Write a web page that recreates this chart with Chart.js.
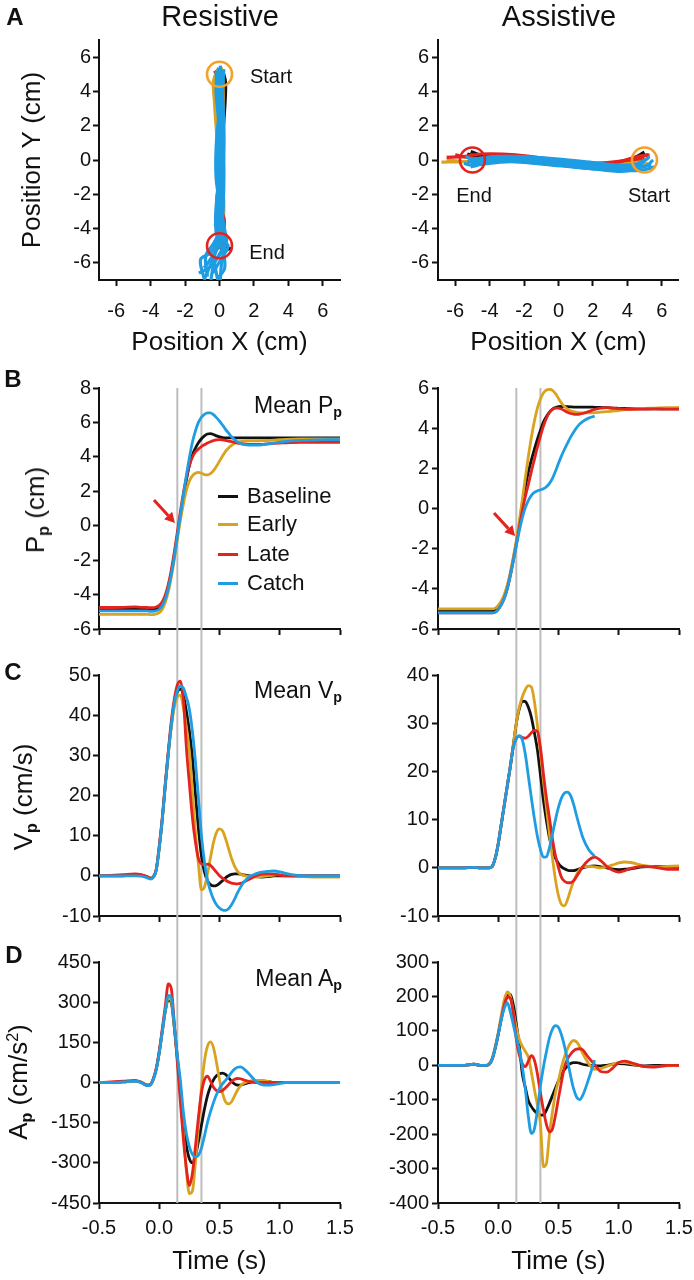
<!DOCTYPE html>
<html><head><meta charset="utf-8">
<script src="https://cdn.jsdelivr.net/npm/chart.js@4.4.1/dist/chart.umd.min.js"></script>
<style>
html,body{margin:0;padding:0;background:#fff;}
#fig{position:relative;width:694px;height:1280px;overflow:hidden;font-family:"Liberation Sans",Arial,Helvetica,sans-serif;color:#111;background:#fff;}
canvas{position:absolute;left:0;}
.t{position:absolute;white-space:nowrap;line-height:1;}
.c{transform:translate(-50%,-50%);}
.r{transform:translate(-100%,-50%);}
.l{transform:translate(0,-50%);}
.v{transform:translate(-50%,-50%) rotate(-90deg);}
.b{font-weight:bold;}
sub{font-size:0.62em;font-weight:bold;vertical-align:-0.3em;line-height:0;}
sup{font-size:0.62em;vertical-align:0.55em;line-height:0;}
.lg{position:absolute;left:218px;width:20px;height:3px;}
</style></head>
<body><div id="fig">
<canvas id="cAL" width="694" height="340" style="top:20px"></canvas>
<canvas id="cAR" width="694" height="340" style="top:20px"></canvas>
<canvas id="cBL" width="694" height="280" style="top:360px"></canvas>
<canvas id="cBR" width="694" height="280" style="top:360px"></canvas>
<canvas id="cCL" width="694" height="285" style="top:640px"></canvas>
<canvas id="cCR" width="694" height="285" style="top:640px"></canvas>
<canvas id="cDL" width="694" height="355" style="top:925px"></canvas>
<canvas id="cDR" width="694" height="355" style="top:925px"></canvas>

<div class="t c b" style="left:15px;top:17px;font-size:24px">A</div>
<div class="t c" style="left:220px;top:16px;font-size:29px">Resistive</div>
<div class="t c" style="left:559px;top:16px;font-size:29px">Assistive</div>
<div class="t c" style="left:271px;top:76px;font-size:20px">Start</div>
<div class="t c" style="left:267px;top:252px;font-size:20px">End</div>
<div class="t c" style="left:474px;top:195px;font-size:20px">End</div>
<div class="t c" style="left:649px;top:195px;font-size:20px">Start</div>

<div class="t c b" style="left:13px;top:379px;font-size:24px">B</div>
<div class="t c b" style="left:13px;top:672px;font-size:24px">C</div>
<div class="t c b" style="left:14px;top:955px;font-size:24px">D</div>

<div class="t r" style="left:342px;top:405px;font-size:23px">Mean P<sub>p</sub></div>
<div class="t r" style="left:342px;top:690px;font-size:23px">Mean V<sub>p</sub></div>
<div class="t r" style="left:342px;top:978px;font-size:23px">Mean A<sub>p</sub></div>

<div class="lg" style="top:495px;background:#111"></div>
<div class="lg" style="top:523px;background:#D9A31F"></div>
<div class="lg" style="top:553px;background:#E3231E"></div>
<div class="lg" style="top:582px;background:#1E9DE3"></div>
<div class="t l" style="left:247px;top:496px;font-size:22px">Baseline</div>
<div class="t l" style="left:247px;top:524px;font-size:22px">Early</div>
<div class="t l" style="left:247px;top:554px;font-size:22px">Late</div>
<div class="t l" style="left:247px;top:583px;font-size:22px">Catch</div>

<div class="t v" style="left:35px;top:510px;font-size:26px">P<sub>p</sub> (cm)</div>
<div class="t v" style="left:23px;top:797px;font-size:26px">V<sub>p</sub> (cm/s)</div>
<div class="t v" style="left:18px;top:1082px;font-size:26px">A<sub>p</sub> (cm/s<sup>2</sup>)</div>
</div>
<script>
const FONT = '"Liberation Sans", Arial, Helvetica, sans-serif';
const INK = '#111111';
const COL_BASE = '#111111', COL_EARLY = '#D9A31F', COL_LATE = '#E3231E', COL_CATCH = '#1E9DE3';
const COL_START = '#F3A12B', COL_END = '#E3231E', COL_MARK = '#BDBDBD';

// ---------- time base (s) ----------
const T = [-0.5,-0.4,-0.3,-0.2,-0.15,-0.1,-0.075,-0.05,-0.025,0,
 0.025,0.05,0.075,0.1,0.125,0.15,0.175,0.2,0.225,0.25,
 0.275,0.3,0.325,0.35,0.375,0.4,0.425,0.45,0.475,0.5,
 0.525,0.55,0.575,0.6,0.625,0.65,0.675,0.7,0.75,0.8,
 0.85,0.9,0.95,1.0,1.05,1.1,1.2,1.3,1.4,1.5];

// ---------- Resistive: position (cm) ----------
const resPosBaseline = [-4.85,-4.85,-4.85,-4.85,-4.85,-4.85,-4.86,-4.86,-4.83,-4.75,
 -4.55,-4.15,-3.55,-2.75,-1.75,-0.6,0.55,1.65,2.65,3.5,
 4.1,4.5,4.82,5.05,5.22,5.33,5.35,5.3,5.22,5.16,
 5.12,5.1,5.1,5.1,5.1,5.1,5.1,5.1,5.1,5.1,
 5.1,5.1,5.1,5.1,5.1,5.1,5.1,5.1,5.1,5.1];
const resPosEarly = [-5.15,-5.15,-5.15,-5.15,-5.15,-5.15,-5.16,-5.16,-5.13,-5.05,
 -4.85,-4.45,-3.85,-3.0,-1.95,-0.8,0.3,1.25,2.05,2.6,
 2.9,3.05,3.1,3.05,2.97,2.95,3.02,3.2,3.45,3.75,
 4.05,4.32,4.52,4.67,4.78,4.85,4.89,4.92,4.93,4.93,
 4.94,4.95,4.97,5.0,5.02,5.03,5.04,5.05,5.05,5.05];
const resPosLate = [-4.75,-4.75,-4.74,-4.72,-4.74,-4.75,-4.76,-4.76,-4.72,-4.63,
 -4.42,-4.02,-3.42,-2.58,-1.52,-0.38,0.8,1.88,2.8,3.5,
 3.98,4.28,4.45,4.6,4.7,4.8,4.88,4.94,4.98,5.0,
 4.99,4.96,4.92,4.88,4.84,4.8,4.77,4.75,4.72,4.72,
 4.73,4.75,4.78,4.8,4.82,4.83,4.84,4.85,4.85,4.85];
const resPosCatch = [-4.95,-4.95,-4.95,-4.95,-4.95,-4.95,-4.97,-4.97,-4.94,-4.85,
 -4.65,-4.25,-3.65,-2.82,-1.8,-0.62,0.6,1.78,2.92,3.95,
 4.85,5.5,6.0,6.3,6.47,6.55,6.55,6.45,6.28,6.08,
 5.85,5.6,5.38,5.17,5.0,4.87,4.78,4.72,4.68,4.68,
 4.7,4.75,4.8,4.85,4.9,4.93,4.96,4.98,5.0,5.0];

// ---------- Resistive: velocity (cm/s) ----------
const resVelBaseline = [0,0,0,0.2,0.2,-0.3,-0.6,-0.3,1.5,7,
 14,22.5,30.5,37.5,43,45.8,46.5,45,41,36,
 29.5,20.5,11.8,5,1,-1.2,-2.2,-2.5,-2.4,-1.9,
 -1.2,-0.5,0,0.35,0.5,0.5,0.4,0.25,0,-0.2,
 -0.3,-0.2,0,0,0,0,0,0,0,0];
const resVelEarly = [0,0,0,0.2,0.2,-0.3,-0.6,-0.3,1.5,7,
 14,22.5,30.5,37,42,44.5,45,42,37,31,
 21,11,3,-3.5,-2.8,0.5,4.5,8.3,10.8,11.7,
 11.2,9.3,6.8,4.3,2.4,1.1,0.4,0.1,-0.2,-0.3,
 -0.2,0,0.2,0.3,0.2,0,-0.2,-0.3,-0.3,-0.3];
const resVelLate = [0,0.1,0.3,0.5,0.3,-0.2,-0.6,-0.3,1.6,7.5,
 14.5,23,31,38.5,44,47.5,48.5,44,32,23,
 14.5,8.5,4.3,3,2.7,2.9,2.6,1.8,0.9,0,
 -0.6,-1.1,-1.5,-1.8,-1.95,-2.0,-1.9,-1.6,-0.8,0,
 0.4,0.5,0.4,0.2,0,0,0,0,0,0];
const resVelCatch = [0,0,0,0,-0.1,-0.5,-0.8,-0.4,1.4,7,
 14,22.5,30.5,37.5,43,46,47.3,46.8,44.5,41.5,
 36,28.5,19.5,10,3.5,-1,-3.8,-5.8,-7.2,-8.0,
 -8.5,-8.6,-8.2,-7.2,-5.8,-4.2,-2.8,-1.6,-0.2,0.5,
 0.9,1.1,1.2,1.0,0.6,0.3,0,0,0,0];

// ---------- Resistive: acceleration (cm/s^2) ----------
const resAccBaseline = [0,0,2,5,0,-10,-8,12,50,112,
 190,265,310,298,205,95,-20,-145,-235,-285,
 -300,-275,-220,-160,-100,-50,-15,10,25,33,
 35,30,18,5,-5,-10,-10,-6,0,5,
 6,4,0,0,0,0,0,0,0,0];
const resAccEarly = [0,0,2,5,0,-10,-8,12,50,112,
 190,268,315,305,210,90,-45,-190,-330,-415,
 -405,-300,-160,-20,80,135,152,130,75,10,
 -40,-72,-80,-72,-50,-28,-12,-3,5,8,
 8,4,0,0,0,0,0,0,0,0];
const resAccLate = [0,2,5,8,2,-10,-8,12,52,118,
 200,285,368,350,220,75,-70,-210,-320,-385,
 -340,-240,-130,-40,10,24,5,-18,-30,-34,
 -30,-20,-8,4,12,15,14,10,3,0,
 0,0,0,0,0,0,0,0,0,0];
const resAccCatch = [0,0,2,5,0,-12,-10,10,48,110,
 190,270,325,318,215,100,10,-110,-190,-240,
 -268,-278,-272,-245,-200,-150,-110,-75,-45,-22,
 -5,8,22,38,50,57,58,52,30,5,
 -8,-10,-8,-4,0,0,0,0,0,0];

// ---------- Assistive: position (cm) ----------
const asPosBaseline = [-5.1,-5.1,-5.1,-5.1,-5.1,-5.1,-5.1,-5.1,-5.06,-4.92,
 -4.7,-4.38,-3.92,-3.28,-2.52,-1.7,-0.82,0.25,1.1,1.82,
 2.42,2.95,3.45,3.9,4.3,4.58,4.8,4.95,5.03,5.07,
 5.08,5.08,5.07,5.06,5.05,5.05,5.05,5.05,5.05,5.04,
 5.03,5.02,5.0,4.99,4.98,4.97,4.96,4.96,4.96,4.96];
const asPosEarly = [-5.0,-5.0,-5.0,-5.0,-5.0,-5.0,-5.0,-5.0,-4.96,-4.82,
 -4.6,-4.28,-3.82,-3.18,-2.42,-1.6,-0.6,0.45,1.55,2.6,
 3.55,4.35,5.0,5.45,5.75,5.9,5.93,5.88,5.72,5.48,
 5.25,5.07,4.95,4.87,4.82,4.79,4.77,4.76,4.76,4.77,
 4.8,4.82,4.85,4.88,4.92,4.95,4.98,5.0,5.02,5.03];
const asPosLate = [-5.2,-5.2,-5.2,-5.2,-5.2,-5.2,-5.2,-5.2,-5.16,-5.02,
 -4.8,-4.47,-4.0,-3.35,-2.6,-1.8,-0.95,-0.1,0.6,1.2,
 1.85,2.45,3.05,3.6,4.1,4.5,4.78,4.93,5.0,5.0,
 4.95,4.87,4.79,4.73,4.7,4.69,4.7,4.73,4.83,4.93,
 5.0,5.02,5.0,4.97,4.95,4.94,4.95,4.96,4.95,4.95];
const asPosCatch = [-5.2,-5.2,-5.2,-5.2,-5.2,-5.2,-5.2,-5.2,-5.16,-5.02,
 -4.8,-4.47,-4.0,-3.35,-2.62,-1.85,-1.1,-0.45,0.05,0.4,
 0.65,0.8,0.88,0.93,0.98,1.08,1.25,1.5,1.85,2.25,
 2.62,2.95,3.25,3.55,3.8,4.02,4.2,4.33,4.5,4.6,
 null,null,null,null,null,null,null,null,null,null];

// ---------- Assistive: velocity (cm/s) ----------
const asVelBaseline = [0,0,0,0.1,0,0,0,0.3,2,5,
 9,13,17,21,25.5,30,33,34.6,34.5,33.3,
 31.2,28,24.5,19.3,14,9.8,6.2,3.8,2,0.9,
 0.2,-0.2,-0.5,-0.6,-0.6,-0.4,-0.2,0,0.3,0.4,
 0.2,0,-0.3,-0.4,-0.3,-0.2,0.2,0.3,0.3,0.3];
const asVelEarly = [0,0,0,0.1,0,0,0,0.3,2,5,
 9,13,17,21,25.5,30,33.3,35.5,37,37.8,
 37.5,34.5,29.5,24,18,12.5,7,2,-2.5,-5.8,
 -7.6,-7.9,-6.6,-4.6,-2.8,-1.4,-0.4,0.2,0.3,0.2,
 0,0.2,0.6,1.0,1.2,1.1,0.5,0.2,0.3,0.4];
const asVelLate = [0,0,0,0.1,0,0,0,0.3,2,5,
 9,13,17,21,25,26.8,27.3,27,26.9,27.3,
 28,28.5,28.3,25,19.5,14.5,10.3,6,2.5,0,
 -2,-2.8,-3.1,-3.1,-2.7,-1.8,-0.8,0.2,1.6,2.2,
 1.5,0.3,-0.5,-0.9,-0.6,-0.1,0.3,0.1,-0.3,-0.3];
const asVelCatch = [0,0,0,0.1,0,0,0,0.3,2,5,
 9,13,17,21,25,26.8,27.4,26.5,23.5,19,
 14.5,10.2,6.5,3.8,2.2,2.3,4.2,7,10,12.6,
 14.5,15.5,15.7,15,13.2,10.8,8.5,6.4,3.8,2.4,
 null,null,null,null,null,null,null,null,null,null];

// ---------- Assistive: acceleration (cm/s^2) ----------
const asAccBaseline = [0,0,0,3,0,0,3,18,50,90,
 135,175,200,206,175,120,55,-25,-65,-103,
 -120,-132,-140,-145,-144,-130,-110,-88,-66,-45,
 -27,-12,-2,5,8,8,6,3,0,-2,
 -2,0,3,5,4,2,-2,0,0,0];
const asAccEarly = [0,0,0,3,0,0,4,20,55,95,
 145,190,213,200,155,110,75,55,40,23,
 -20,-70,-115,-170,-295,-285,-200,-135,-80,-45,
 -5,25,48,65,72,68,55,35,5,-12,
 -10,-3,3,8,8,5,-3,-4,-2,0];
const asAccLate = [0,0,0,3,0,0,3,18,50,90,
 135,175,198,195,150,75,30,5,-4,12,
 28,15,-25,-80,-130,-172,-193,-185,-145,-95,
 -48,-5,18,32,42,47,48,45,22,2,
 -18,-20,-8,8,12,8,-3,-5,0,0];
const asAccCatch = [0,0,0,3,0,0,3,18,50,90,
 132,165,182,155,118,80,45,-5,-70,-150,
 -198,-185,-130,-60,-5,40,80,105,115,110,
 88,55,15,-30,-68,-92,-100,-88,-40,15,
 null,null,null,null,null,null,null,null,null,null];

// ---------- Panel A: hand paths (x, y in cm) ----------
const resBaselineTraj = [
 [[0.1,5.1],[0.3,4.7],[0.25,3.5],[0.15,2],[0.05,0.5],[-0.05,-1],[-0.1,-2.5],[-0.05,-3.8],[0.1,-4.7],[0.4,-5.1],[0.7,-5.2]],
 [[0.2,5.2],[0.35,4.5],[0.3,3],[0.15,1],[0,-1.5],[-0.05,-3],[0.05,-4.5],[0.3,-5.0],[0.5,-5.3]]];
const resEarlyTraj = [
 [[-0.1,5.3],[-0.35,4.6],[-0.3,3.5],[-0.2,2],[-0.05,0],[0.1,-2],[0.2,-3],[0.05,-4.4],[0.1,-5.0],[0.25,-5.3]],
 [[0.1,5.4],[0.2,4.6],[0.2,2.5],[0.05,-0.5],[0.25,-2.5],[0.15,-4.2],[-0.1,-5.2]]];
const resLateTraj = [
 [[-0.3,5.2],[-0.1,4.9],[0,3],[0,1],[-0.05,-1],[-0.15,-3],[0.2,-3.2],[0.25,-4],[-0.1,-4.4],[0,-5],[0.3,-5.4]],
 [[0.05,5.1],[0.1,3.5],[0,0.5],[0.05,-2.5],[-0.15,-4],[0.15,-4.6],[0.1,-5.2],[0.35,-4.9]]];
const resCatchTraj = [
 [[0,5.3],[0.1,4.6],[0.15,2.5],[0.05,0],[-0.05,-2],[0,-4],[-0.2,-5.3],[-0.6,-6.3],[-0.9,-7]],
 [[-0.1,5.2],[0.05,4],[0.1,1],[0,-2],[0.05,-4],[0.4,-4.4],[0.3,-5.1],[-0.3,-6],[-0.5,-7]],
 [[0.05,5.5],[0.2,3],[0.05,-1],[-0.1,-3.5],[0.15,-4.7],[-0.3,-5.5],[-0.2,-6.5],[-0.1,-7]],
 [[-0.15,5],[0,3],[0.1,0],[0,-3],[0.3,-4.9],[0.1,-6.2],[0.05,-7]],
 [[0.15,5.1],[0.1,2],[-0.1,-1],[-0.05,-4.4],[-0.5,-5.4],[-1.1,-5.8],[-0.9,-6.9]],
 [[0,5],[-0.05,2],[0.1,-1.5],[0.05,-4.5],[0.5,-5],[0.2,-5.6],[-0.4,-6.6]],
 [[-0.2,5.2],[-0.1,3.5],[0.2,1],[0.25,-1.5],[0.1,-3.8],[-0.3,-4.8],[-0.8,-5.6],[-0.7,-6.8]],
 [[0.25,5.3],[0.15,3.8],[-0.15,1.5],[-0.2,-1],[0.1,-3],[0.35,-4.6],[0.05,-5.4],[-0.5,-6.2],[-1.2,-6.6]],
 [[0.05,4.8],[0.25,2.2],[0.2,-0.5],[-0.15,-2.2],[-0.2,-4.2],[0.2,-5.3],[0.3,-6.3],[-0.1,-6.9]],
 [[-0.05,5.4],[-0.2,4.2],[-0.1,2.8],[0.15,0.3],[0.2,-2.8],[0,-4.8],[-0.6,-5.9],[-0.9,-6.3]]];
const asBaselineTraj = [
 [[5.2,0.3],[4.6,0.15],[3.5,-0.2],[2,-0.3],[0.5,-0.15],[-1,0.05],[-3,0.2],[-4.5,0.15],[-5.3,0.35]],
 [[5,0.45],[4.2,0.05],[2.5,-0.35],[0,-0.1],[-2,0.1],[-4.2,0.2],[-5.1,0.5]]];
const asEarlyTraj = [
 [[5.2,-0.2],[4,-0.4],[2,-0.35],[0,-0.15],[-2,0.05],[-4,0],[-5.5,-0.1],[-6.8,-0.12]],
 [[5,0],[3,-0.25],[0,-0.05],[-3,0.1],[-5,-0.1],[-6.5,0]]];
const asLateTraj = [
 [[5.3,0.3],[4.6,0.2],[3,-0.2],[0,0],[-2.5,0.3],[-4.5,0.35],[-5.5,0.2],[-6.5,0.15]],
 [[5,0.1],[2,-0.2],[-1,0.05],[-3,0.25],[-5,0.1],[-6,0.3]]];
const asCatchTraj = [
 [[5.5,0],[5,-0.4],[3,-0.45],[1,-0.25],[-1,-0.05],[-3,0.1],[-4.5,0],[-5,-0.3],[-5.5,-0.2]],
 [[5.3,0.2],[4.5,-0.3],[2.5,-0.3],[0,-0.1],[-2,0.15],[-4,0.1],[-5,0],[-4.8,-0.4]],
 [[5,0],[4,-0.5],[2,-0.35],[0,-0.15],[-2.5,0.05],[-4.2,-0.1],[-5.2,0.1]],
 [[5.4,-0.3],[3.5,-0.55],[1.5,-0.3],[-0.5,-0.1],[-3,0],[-4.8,-0.2]],
 [[5.2,0.1],[4.2,-0.6],[2.8,-0.6],[1,-0.4],[-1,-0.2],[-3,-0.05],[-4.6,-0.15],[-5.3,-0.1]],
 [[4.9,-0.2],[3.8,-0.3],[2,-0.15],[0,0.05],[-2,0.2],[-3.8,0.2],[-5,0.05],[-5.4,0.2]],
 [[5.6,-0.4],[4.8,-0.6],[3.2,-0.6],[1.2,-0.45],[-0.8,-0.25],[-2.8,-0.1],[-4.4,-0.25],[-5.1,-0.4]]];
const resTargets = {start:[0,5], end:[0,-5]};
const asTargets = {start:[5,0], end:[-5,0]};

// ---------- ticks and markers ----------
const posTicksA = [-6,-4,-2,0,2,4,6];
const timeTicks = [-0.5,0,0.5,1,1.5];
const resPosTicks = [-6,-4,-2,0,2,4,6,8];
const asPosTicks = [-6,-4,-2,0,2,4,6];
const resVelTicks = [-10,0,10,20,30,40,50];
const asVelTicks = [-10,0,10,20,30,40];
const resAccTicks = [-450,-300,-150,0,150,300,450];
const asAccTicks = [-400,-300,-200,-100,0,100,200,300];
const markerTimes = [0.15, 0.35];
const resArrow = [-0.044, 1.49, 0.13, 0.16];
const asArrow = [-0.035, -0.22, 0.14, -1.37];

Chart.defaults.font.family = FONT;
Chart.defaults.color = INK;

function pts(vals){ return T.map((t,i)=>({x:t, y:vals[i]})); }
function pathPts(p){ return p.map(q=>({x:q[0], y:q[1]})); }
const intFmt = v => String(v);
const timeFmt = v => Number(v).toFixed(1);

function zeroPad(s){ s.paddingLeft=0; s.paddingRight=0; s.paddingTop=0; s.paddingBottom=0; }

function mkX(min,max,ticks,fmt,show,height,tickPad,title){
  return {
    type:'linear', min, max,
    afterBuildTicks(s){ s.ticks = ticks.map(v=>({value:v})); },
    afterFit(s){ s.height = height; zeroPad(s); },
    grid:{display:true, drawOnChartArea:false, drawTicks:true, tickLength:6, tickWidth:2, tickColor:INK},
    border:{display:true, color:INK, width:2},
    ticks:{color:INK, font:{family:FONT,size:20}, padding:tickPad, maxRotation:0, minRotation:0, autoSkip:false,
      callback:(v)=> show ? fmt(v) : ''},
    title: title ? {display:true, text:title.text, color:INK, font:{family:FONT,size:26}, padding:{top:0,bottom:title.pb}} : {display:false}
  };
}
function mkY(min,max,ticks,width,tickPad,title){
  return {
    type:'linear', min, max,
    afterBuildTicks(s){ s.ticks = ticks.map(v=>({value:v})); },
    afterFit(s){ s.width = width; zeroPad(s); },
    grid:{display:true, drawOnChartArea:false, drawTicks:true, tickLength:6, tickWidth:2, tickColor:INK},
    border:{display:true, color:INK, width:2},
    ticks:{color:INK, font:{family:FONT,size:20}, padding:tickPad, autoSkip:false, callback:(v)=>intFmt(v)},
    title: title ? {display:true, text:title.text, color:INK, font:{family:FONT,size:26}, padding:{top:title.pt,bottom:0}} : {display:false}
  };
}

function markerPlugin(mode){
  return { id:'markers'+mode,
    beforeDatasetsDraw(chart){
      const {ctx, chartArea, scales} = chart;
      const top = mode==='B' ? chartArea.top : 0;
      const bottom = mode==='D' ? chartArea.bottom : chart.height;
      ctx.save(); ctx.strokeStyle = COL_MARK; ctx.lineWidth = 2;
      markerTimes.forEach(t=>{ const px = scales.x.getPixelForValue(t);
        ctx.beginPath(); ctx.moveTo(px, top); ctx.lineTo(px, bottom); ctx.stroke(); });
      ctx.restore();
    }};
}
function arrowPlugin(a){
  return { id:'arrow',
    afterDatasetsDraw(chart){
      const {ctx, scales:{x,y}} = chart;
      const x1=x.getPixelForValue(a[0]), y1=y.getPixelForValue(a[1]);
      const x2=x.getPixelForValue(a[2]), y2=y.getPixelForValue(a[3]);
      const ang = Math.atan2(y2-y1, x2-x1), L=10, W=5.5;
      const bx = x2 - L*Math.cos(ang), by = y2 - L*Math.sin(ang);
      ctx.save(); ctx.strokeStyle = COL_LATE; ctx.fillStyle = COL_LATE; ctx.lineWidth = 3; ctx.lineCap='butt';
      ctx.beginPath(); ctx.moveTo(x1,y1); ctx.lineTo(bx,by); ctx.stroke();
      ctx.beginPath(); ctx.moveTo(x2,y2);
      ctx.lineTo(bx + W*Math.sin(ang), by - W*Math.cos(ang));
      ctx.lineTo(bx - W*Math.sin(ang), by + W*Math.cos(ang)); ctx.closePath(); ctx.fill();
      ctx.restore();
    }};
}

function line(label, vals, color){
  return {label, data:pts(vals), borderColor:color, backgroundColor:color, borderWidth:2.8,
    pointRadius:0, fill:false, cubicInterpolationMode:'monotone', spanGaps:false};
}

const ROWS = {
  B:{padTop:28, axisH:11, show:false, pad:0, title:null},
  C:{padTop:35, axisH:9, show:false, pad:0, title:null},
  D:{padTop:37, axisH:77, show:true, pad:7, title:{text:'Time (s)', pb:2.4}}
};

function timeChart(id, side, row, yMin, yMax, yTicks, s, extraPlugins){
  const left = side==='L';
  const r = ROWS[row];
  return new Chart(document.getElementById(id), {
    type:'line',
    data:{datasets:[
      line('Catch', s.c, COL_CATCH),
      line('Late', s.l, COL_LATE),
      line('Early', s.e, COL_EARLY),
      line('Baseline', s.b, COL_BASE)
    ]},
    options:{
      responsive:false, animation:false, devicePixelRatio:1, events:[],
      layout:{padding:{left:left?0:347, right:left?354:15, top:r.padTop, bottom:0}},
      plugins:{legend:{display:false}, tooltip:{enabled:false}},
      scales:{
        x: mkX(-0.5, 1.5, timeTicks, timeFmt, r.show, r.axisH, r.pad, r.title),
        y: mkY(yMin, yMax, yTicks, left?99:91, left?2:3, null)
      }
    },
    plugins:[markerPlugin(row)].concat(extraPlugins||[])
  });
}

function pathChart(id, side, trajs, targets){
  const left = side==='L';
  const ds = [];
  ds.push({label:'Start', data:[{x:targets.start[0], y:targets.start[1]}], showLine:false, pointRadius:12.5,
    pointBorderWidth:2.6, pointBorderColor:COL_START, pointBackgroundColor:'rgba(0,0,0,0)'});
  ds.push({label:'End', data:[{x:targets.end[0], y:targets.end[1]}], showLine:false, pointRadius:12.5,
    pointBorderWidth:2.6, pointBorderColor:COL_END, pointBackgroundColor:'rgba(0,0,0,0)'});
  const groups = [[trajs.c, COL_CATCH, 'Catch'], [trajs.l, COL_LATE, 'Late'], [trajs.e, COL_EARLY, 'Early'], [trajs.b, COL_BASE, 'Baseline']];
  groups.forEach(g=> g[0].forEach((p,k)=> ds.push({label:g[2]+k, data:pathPts(p), showLine:true, borderColor:g[1],
    backgroundColor:g[1], borderWidth:3.2, pointRadius:0, tension:0.35, fill:false})));
  return new Chart(document.getElementById(id), {
    type:'scatter',
    data:{datasets:ds},
    options:{
      responsive:false, animation:false, devicePixelRatio:1, events:[],
      layout:{padding:{left:left?0:347, right:left?354:15, top:20, bottom:0}},
      plugins:{legend:{display:false}, tooltip:{enabled:false}},
      scales:{
        x: mkX(-7, 7, posTicksA, intFmt, true, 80, 13, {text:'Position X (cm)', pb:1.4}),
        y: mkY(-7, 7, posTicksA, left?99:91, left?2:3, left ? {text:'Position Y (cm)', pt:17} : null)
      }
    }
  });
}

pathChart('cAL','L',{b:resBaselineTraj, e:resEarlyTraj, l:resLateTraj, c:resCatchTraj}, resTargets);
pathChart('cAR','R',{b:asBaselineTraj, e:asEarlyTraj, l:asLateTraj, c:asCatchTraj}, asTargets);
timeChart('cBL','L','B',-6,8,resPosTicks,{b:resPosBaseline,e:resPosEarly,l:resPosLate,c:resPosCatch},[arrowPlugin(resArrow)]);
timeChart('cBR','R','B',-6,6,asPosTicks,{b:asPosBaseline,e:asPosEarly,l:asPosLate,c:asPosCatch},[arrowPlugin(asArrow)]);
timeChart('cCL','L','C',-10,50,resVelTicks,{b:resVelBaseline,e:resVelEarly,l:resVelLate,c:resVelCatch});
timeChart('cCR','R','C',-10,40,asVelTicks,{b:asVelBaseline,e:asVelEarly,l:asVelLate,c:asVelCatch});
timeChart('cDL','L','D',-450,450,resAccTicks,{b:resAccBaseline,e:resAccEarly,l:resAccLate,c:resAccCatch});
timeChart('cDR','R','D',-400,300,asAccTicks,{b:asAccBaseline,e:asAccEarly,l:asAccLate,c:asAccCatch});
</script>
</body></html>
